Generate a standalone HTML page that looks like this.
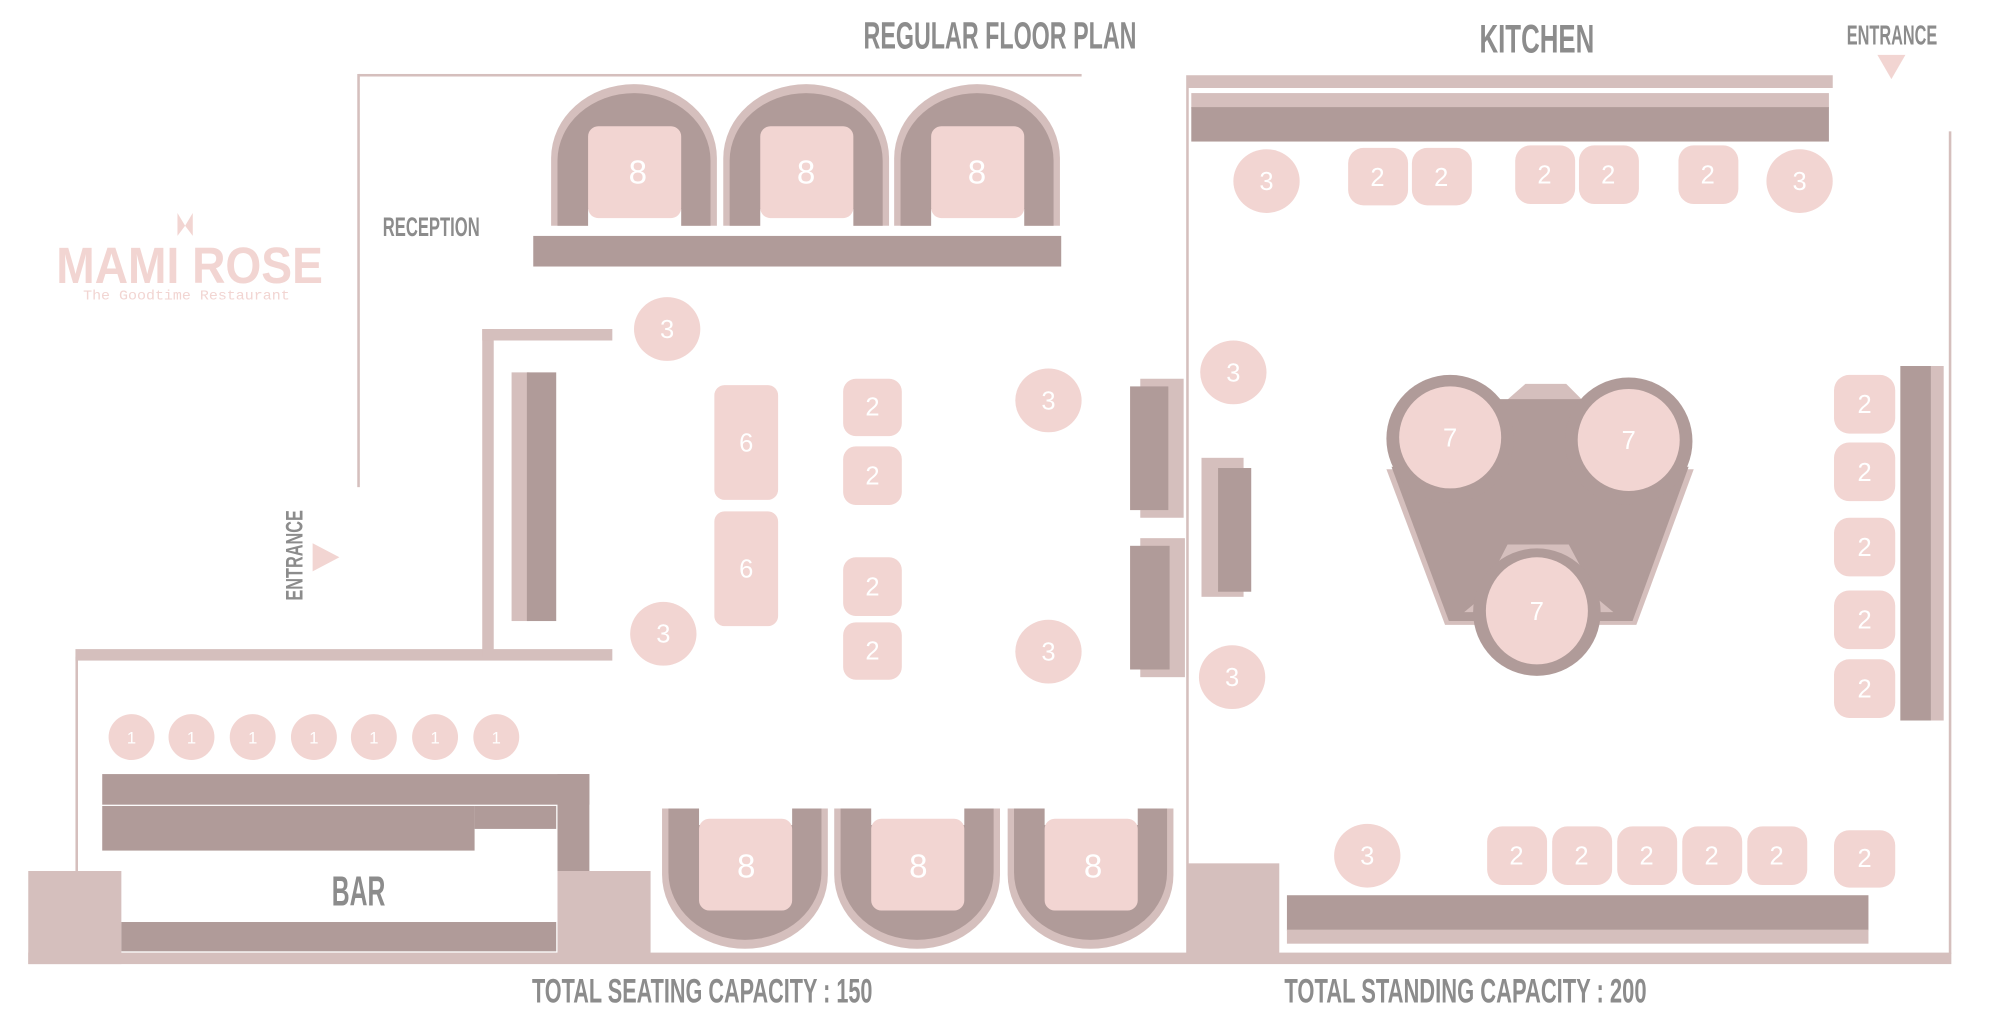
<!DOCTYPE html>
<html><head><meta charset="utf-8"><style>
html,body{margin:0;padding:0;background:#fff}
svg{display:block}
.t{font-family:"Liberation Sans Narrow","Liberation Sans",sans-serif;font-weight:bold;fill:#8c8c8c}
.n{font-family:"Liberation Sans",sans-serif;fill:#fff;text-anchor:middle}
</style></head><body>
<svg width="2000" height="1010" viewBox="0 0 1568 792" xmlns="http://www.w3.org/2000/svg">
<defs>
<g id="boothT">
<path d="M0,113 V60 A65,58 0 0 1 130,60 V113 Z" fill="#d5bfbd"/>
<path d="M5,113 V62 A60,53 0 0 1 125,62 V113 Z" fill="#b09b99"/>
<rect x="29" y="100" width="73" height="14" fill="#fff"/>
<rect x="29" y="35" width="73" height="72" rx="8" fill="#f2d5d2"/>
</g>
<g id="boothB">
<path d="M0,0 V52 A65,58 0 0 0 130,52 V0 Z" fill="#d5bfbd"/>
<path d="M5,0 V50 A60,53 0 0 0 125,50 V0 Z" fill="#b09b99"/>
<rect x="29" y="-1" width="73" height="14" fill="#fff"/>
<rect x="29" y="8" width="73" height="72" rx="8" fill="#f2d5d2"/>
</g>
</defs>

<text class="t" x="677" y="38" font-size="30" textLength="214" lengthAdjust="spacingAndGlyphs">REGULAR FLOOR PLAN</text>
<text class="t" x="1160" y="41" font-size="31" textLength="90" lengthAdjust="spacingAndGlyphs">KITCHEN</text>
<text class="t" x="1448" y="35" font-size="22" textLength="71" lengthAdjust="spacingAndGlyphs">ENTRANCE</text>
<text class="t" x="300" y="185" font-size="21" textLength="76" lengthAdjust="spacingAndGlyphs">RECEPTION</text>
<text class="t" x="260" y="710" font-size="33" textLength="42" lengthAdjust="spacingAndGlyphs">BAR</text>
<text class="t" x="417" y="786" font-size="27" textLength="267" lengthAdjust="spacingAndGlyphs">TOTAL SEATING CAPACITY : 150</text>
<text class="t" x="1007" y="786" font-size="27" textLength="284" lengthAdjust="spacingAndGlyphs">TOTAL STANDING CAPACITY : 200</text>
<text class="t" transform="translate(237,471) rotate(-90)" font-size="19" textLength="71" lengthAdjust="spacingAndGlyphs">ENTRANCE</text>

<path d="M139,167 L145,177 L151,167 V185 L145,177 L139,185 Z" fill="#f2d5d2"/>
<text x="44" y="222" font-family="Liberation Sans,sans-serif" font-weight="bold" font-size="40" fill="#f2d5d2" textLength="209" lengthAdjust="spacingAndGlyphs">MAMI ROSE</text>
<text x="65" y="235" font-family="Liberation Mono,monospace" font-size="11" fill="#f2d5d2" textLength="162" lengthAdjust="spacingAndGlyphs">The Goodtime Restaurant</text>

<polygon points="1472,43 1494,43 1483,62" fill="#f2d5d2"/>
<polygon points="245,426 266,437 245,448" fill="#f2d5d2"/>

<rect x="281" y="58" width="567" height="2" fill="#d5bfbd"/>
<rect x="280" y="58" width="2" height="324" fill="#d5bfbd"/>
<rect x="930" y="69" width="2" height="680" fill="#d5bfbd"/>
<rect x="1528" y="103" width="2" height="645" fill="#d5bfbd"/>
<rect x="59" y="515" width="2" height="170" fill="#d5bfbd"/>

<rect x="930" y="59" width="507" height="10" fill="#d5bfbd"/>
<rect x="934" y="73" width="500" height="12" fill="#d5bfbd"/>
<rect x="934" y="84" width="500" height="27" fill="#b09b99"/>

<rect x="59" y="509" width="421" height="9" fill="#d5bfbd"/>
<rect x="378" y="258" width="9" height="257" fill="#d5bfbd"/>
<rect x="378" y="258" width="102" height="9" fill="#d5bfbd"/>
<rect x="22" y="747" width="1508" height="9" fill="#d5bfbd"/>
<rect x="22" y="683" width="73" height="73" fill="#d5bfbd"/>
<rect x="437" y="683" width="73" height="65" fill="#d5bfbd"/>
<rect x="931" y="677" width="72" height="71" fill="#d5bfbd"/>

<rect x="80" y="607" width="382" height="24" fill="#b09b99"/>
<rect x="437" y="607" width="25" height="76" fill="#b09b99"/>
<rect x="80" y="632" width="292" height="35" fill="#b09b99"/>
<rect x="372" y="632" width="64" height="18" fill="#b09b99"/>
<rect x="95" y="723" width="341" height="23" fill="#b09b99"/>
<g fill="#f2d5d2">
<ellipse cx="103" cy="578" rx="18" ry="18"/><ellipse cx="150" cy="578" rx="18" ry="18"/><ellipse cx="198" cy="578" rx="18" ry="18"/><ellipse cx="246" cy="578" rx="18" ry="18"/><ellipse cx="293" cy="578" rx="18" ry="18"/><ellipse cx="341" cy="578" rx="18" ry="18"/><ellipse cx="389" cy="578" rx="18" ry="18"/>
</g>
<g class="n" font-size="13">
<text x="103" y="583">1</text><text x="150" y="583">1</text><text x="198" y="583">1</text><text x="246" y="583">1</text><text x="293" y="583">1</text><text x="341" y="583">1</text><text x="389" y="583">1</text>
</g>

<rect x="401" y="292" width="14" height="195" fill="#d5bfbd"/>
<rect x="413" y="292" width="23" height="195" fill="#b09b99"/>
<rect x="894" y="297" width="34" height="109" fill="#d5bfbd"/>
<rect x="886" y="303" width="30" height="97" fill="#b09b99"/>
<rect x="894" y="422" width="35" height="109" fill="#d5bfbd"/>
<rect x="886" y="428" width="31" height="97" fill="#b09b99"/>
<rect x="942" y="359" width="33" height="109" fill="#d5bfbd"/>
<rect x="955" y="367" width="26" height="97" fill="#b09b99"/>
<rect x="1514" y="287" width="10" height="278" fill="#d5bfbd"/>
<rect x="1490" y="287" width="24" height="278" fill="#b09b99"/>
<rect x="1009" y="702" width="456" height="28" fill="#b09b99"/>
<rect x="1009" y="729" width="456" height="11" fill="#d5bfbd"/>

<use href="#boothT" x="432" y="64"/>
<use href="#boothT" x="567" y="64"/>
<use href="#boothT" x="701" y="64"/>
<rect x="418" y="185" width="414" height="24" fill="#b09b99"/>
<use href="#boothB" x="519" y="634"/>
<use href="#boothB" x="654" y="634"/>
<use href="#boothB" x="790" y="634"/>
<g class="n" font-size="26">
<text x="500" y="144">8</text><text x="632" y="144">8</text><text x="766" y="144">8</text>
<text x="585" y="688">8</text><text x="720" y="688">8</text><text x="857" y="688">8</text>
</g>

<polygon points="1180,315 1196,301 1228,301 1242,315" fill="#d5bfbd"/>
<polygon points="1087,368 1328,368 1283,490 1133,490" fill="#d5bfbd"/>
<polygon points="1091,366 1324,366 1280,487 1136,487" fill="#b09b99"/>
<rect x="1137" y="313" width="140" height="60" fill="#b09b99"/>
<ellipse cx="1137" cy="344" rx="50" ry="50" fill="#b09b99"/>
<ellipse cx="1277" cy="346" rx="50" ry="50" fill="#b09b99"/>
<polygon points="1160,470 1182,427 1230,427 1253,470 1265,480 1148,480" fill="#d5bfbd"/>
<ellipse cx="1205" cy="480" rx="50" ry="50" fill="#b09b99"/>
<g fill="#f2d5d2">
<ellipse cx="1137" cy="343" rx="40" ry="40"/>
<ellipse cx="1277" cy="345" rx="40" ry="40"/>
<ellipse cx="1205" cy="479" rx="40" ry="42"/>
</g>

<g fill="#f2d5d2">
<ellipse cx="523" cy="258" rx="26" ry="25"/><ellipse cx="520" cy="497" rx="26" ry="25"/>
<ellipse cx="822" cy="314" rx="26" ry="25"/><ellipse cx="822" cy="511" rx="26" ry="25"/>
<ellipse cx="993" cy="142" rx="26" ry="25"/><ellipse cx="1411" cy="142" rx="26" ry="25"/>
<ellipse cx="967" cy="292" rx="26" ry="25"/><ellipse cx="966" cy="531" rx="26" ry="25"/>
<ellipse cx="1072" cy="671" rx="26" ry="25"/>
</g>
<g fill="#f2d5d2">
<rect x="560" y="302" width="50" height="90" rx="8"/><rect x="560" y="401" width="50" height="90" rx="8"/>
<rect x="661" y="297" width="46" height="45" rx="10"/><rect x="661" y="350" width="46" height="46" rx="10"/>
<rect x="661" y="437" width="46" height="46" rx="10"/><rect x="661" y="488" width="46" height="45" rx="10"/>
<rect x="1057" y="116" width="47" height="45" rx="12"/><rect x="1107" y="116" width="47" height="45" rx="12"/>
<rect x="1188" y="114" width="47" height="46" rx="12"/><rect x="1238" y="114" width="47" height="46" rx="12"/>
<rect x="1316" y="114" width="47" height="46" rx="12"/>
<rect x="1438" y="294" width="48" height="46" rx="12"/><rect x="1438" y="347" width="48" height="46" rx="12"/>
<rect x="1438" y="406" width="48" height="46" rx="12"/><rect x="1438" y="463" width="48" height="46" rx="12"/>
<rect x="1438" y="517" width="48" height="46" rx="12"/>
<rect x="1166" y="648" width="47" height="46" rx="12"/><rect x="1217" y="648" width="47" height="46" rx="12"/>
<rect x="1268" y="648" width="47" height="46" rx="12"/><rect x="1319" y="648" width="47" height="46" rx="12"/>
<rect x="1370" y="648" width="47" height="46" rx="12"/><rect x="1438" y="651" width="48" height="45" rx="12"/>
</g>
<g class="n" font-size="20">
<text x="523" y="265">3</text><text x="520" y="504">3</text><text x="822" y="321">3</text><text x="822" y="518">3</text>
<text x="993" y="149">3</text><text x="1411" y="149">3</text><text x="967" y="299">3</text><text x="966" y="538">3</text><text x="1072" y="678">3</text>
<text x="585" y="354">6</text><text x="585" y="453">6</text>
<text x="684" y="326">2</text><text x="684" y="380">2</text><text x="684" y="467">2</text><text x="684" y="517">2</text>
<text x="1080" y="146">2</text><text x="1130" y="146">2</text><text x="1211" y="144">2</text><text x="1261" y="144">2</text><text x="1339" y="144">2</text>
<text x="1462" y="324">2</text><text x="1462" y="377">2</text><text x="1462" y="436">2</text><text x="1462" y="493">2</text><text x="1462" y="547">2</text>
<text x="1189" y="678">2</text><text x="1240" y="678">2</text><text x="1291" y="678">2</text><text x="1342" y="678">2</text><text x="1393" y="678">2</text><text x="1462" y="680">2</text>
<text x="1137" y="350">7</text><text x="1277" y="352">7</text><text x="1205" y="486">7</text>
</g>
</svg>
</body></html>
